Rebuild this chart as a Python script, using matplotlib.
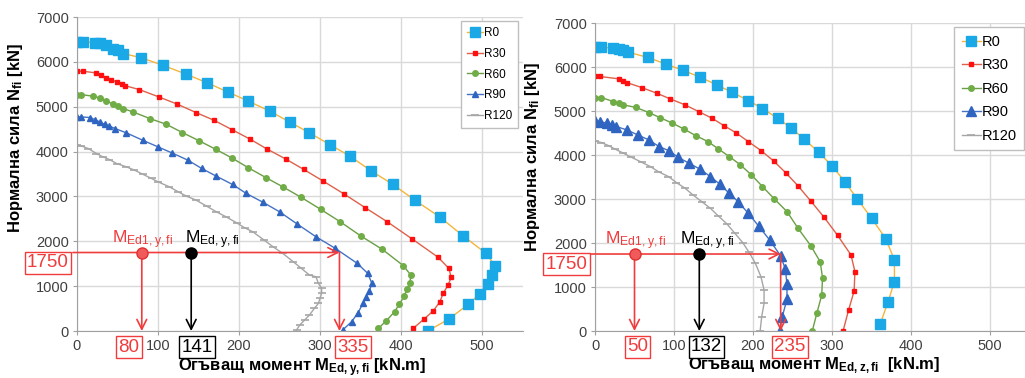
import matplotlib
matplotlib.use("Agg")
import matplotlib.pyplot as plt

plt.rcParams['font.family'] = ['Liberation Sans', 'DejaVu Sans']
plt.rcParams['mathtext.default'] = 'regular'

# ---- left chart: M_Ed,y,fi ----
ly_r0_m = [0, 7, 22, 28, 36, 44, 51, 57, 79, 106, 135, 161, 186, 211, 238, 263, 287, 312, 337, 363,
           390, 417, 448, 477, 505, 516, 512, 507, 497, 483, 459, 433]
ly_r0_n = [6444, 6444, 6429, 6422, 6370, 6295, 6258, 6184, 6095, 5924, 5724, 5531, 5330, 5130, 4900,
           4655, 4417, 4157, 3898, 3571, 3267, 2918, 2539, 2116, 1730, 1455, 1247, 1047, 824, 594, 267, 0]
ly_r30_m = [0, 7, 24, 30, 36, 42, 49, 55, 59, 77, 101, 124, 147, 169, 191, 213, 235, 258, 280, 304,
            330, 356, 383, 414, 446, 459, 462, 458, 452, 448, 440, 428, 415]
ly_r30_n = [5791, 5791, 5754, 5702, 5650, 5605, 5553, 5516, 5471, 5382, 5219, 5056, 4870, 4699, 4492,
            4284, 4053, 3831, 3601, 3341, 3051, 2747, 2435, 2049, 1641, 1396, 1195, 1024, 839, 653,
            453, 260, 59]
ly_r60_m = [0, 5, 20, 28, 36, 44, 51, 57, 69, 90, 110, 130, 151, 171, 191, 211, 233, 254, 277, 301,
            325, 350, 377, 403, 412, 411, 407, 404, 398, 392, 382, 372]
ly_r60_n = [5271, 5271, 5234, 5197, 5122, 5070, 5011, 4959, 4885, 4736, 4610, 4425, 4239, 4053, 3860,
            3645, 3422, 3215, 2977, 2710, 2435, 2123, 1819, 1455, 1247, 1062, 928, 780, 601, 431, 230, 59]
ly_r90_m = [0, 5, 16, 22, 28, 34, 40, 47, 61, 81, 100, 117, 137, 154, 172, 192, 209, 230, 250, 272,
            295, 319, 346, 359, 364, 361, 357, 353, 347, 339, 328]
ly_r90_n = [4774, 4774, 4759, 4714, 4662, 4610, 4566, 4514, 4417, 4254, 4105, 3972, 3808, 3623, 3452,
            3267, 3066, 2866, 2658, 2383, 2101, 1841, 1507, 1284, 1062, 898, 765, 616, 408, 208, 22]
ly_r120_m = [0, 5, 14, 24, 32, 40, 49, 61, 71, 81, 92, 100, 114, 125, 135, 147, 160, 172, 184, 197,
             207, 217, 231, 242, 254, 267, 277, 287, 295, 298, 302, 302, 300, 298, 293, 287, 281, 275, 271]
ly_r120_n = [4142, 4128, 4068, 3957, 3883, 3823, 3734, 3660, 3586, 3497, 3400, 3326, 3215, 3103, 3007,
             2918, 2784, 2658, 2546, 2413, 2301, 2212, 2027, 1878, 1730, 1544, 1396, 1247, 1210, 1062,
             950, 839, 728, 616, 505, 356, 245, 134, 22]

# ---- right chart: M_Ed,z,fi ----
rz_r0_m = [0, 8, 23, 30, 36, 42, 67, 90, 112, 133, 154, 174, 194, 212, 231, 248, 265, 283, 300, 316,
           332, 350, 368, 379, 379, 371, 361]
rz_r0_n = [6452, 6452, 6429, 6406, 6376, 6338, 6217, 6065, 5921, 5770, 5595, 5421, 5239, 5057, 4837,
           4617, 4359, 4064, 3753, 3397, 3002, 2563, 2100, 1615, 1122, 667, 159]
rz_r30_m = [0, 6, 30, 36, 40, 59, 78, 95, 114, 131, 148, 163, 178, 194, 210, 226, 242, 257, 273, 290,
            307, 324, 329, 328, 321, 314]
rz_r30_n = [5785, 5785, 5732, 5686, 5648, 5534, 5406, 5277, 5140, 4989, 4837, 4670, 4511, 4306, 4102,
            3867, 3586, 3298, 2957, 2585, 2176, 1729, 1350, 910, 478, 0]
rz_r60_m = [0, 8, 23, 30, 36, 52, 68, 82, 98, 113, 128, 143, 156, 170, 184, 198, 212, 227, 243, 257,
            273, 285, 288, 287, 281, 275]
rz_r60_n = [5307, 5307, 5216, 5178, 5140, 5080, 4966, 4852, 4723, 4587, 4435, 4306, 4140, 3965, 3776,
            3548, 3283, 3002, 2714, 2335, 1941, 1577, 1213, 819, 417, 0]
rz_r90_m = [0, 6, 15, 21, 27, 40, 54, 68, 81, 94, 105, 119, 133, 146, 158, 169, 181, 194, 207, 221,
            235, 241, 243, 243, 237, 234]
rz_r90_n = [4776, 4761, 4723, 4685, 4647, 4572, 4458, 4344, 4193, 4094, 3950, 3814, 3677, 3510, 3336,
            3146, 2942, 2676, 2388, 2070, 1706, 1403, 1061, 720, 326, 0]
rz_r120_m = [0, 8, 17, 25, 36, 46, 59, 70, 80, 93, 103, 114, 124, 135, 146, 156, 167, 177, 187, 195,
             203, 210, 214, 214, 211, 209]
rz_r120_n = [4321, 4284, 4215, 4139, 4041, 3950, 3836, 3738, 3624, 3510, 3374, 3245, 3093, 2942, 2790,
             2616, 2434, 2221, 2009, 1789, 1539, 1236, 933, 629, 326, 0]

labels = ['R0', 'R30', 'R60', 'R90', 'R120']
n_ed = 1750
left_vals = [80, 141, 335]     # M_Ed1, M_Ed, M_Rd
right_vals = [50, 132, 235]
left_arrow_x = 324
right_arrow_x = 235

RED = '#f03c3c'

fig = plt.figure(figsize=(10.25, 3.78), dpi=100)
ax1 = fig.add_axes([0.0751, 0.1243, 0.4347, 0.8307])
ax2 = fig.add_axes([0.5805, 0.1243, 0.4239, 0.8148])


def draw(ax, curves, tri_size, leg_fs, spacing):
    styles = [
        dict(color='#f5b43c', marker='s', mfc='#1aa9e6', mec='#1aa9e6', ms=7),
        dict(color='#e0604a', marker='s', mfc='#ff1010', mec='#ff1010', ms=3),
        dict(color='#6a9f45', marker='o', mfc='#70ad47', mec='#70ad47', ms=4),
        dict(color='#4472c4', marker='^', mfc='#2f65c0', mec='#2f65c0', ms=tri_size),
        dict(color='#a6a6a6', marker='_', mfc='#a6a6a6', mec='#a6a6a6', ms=6, mew=1.2),
    ]
    for (m, n), lab, st in zip(curves, labels, styles):
        ax.plot(m, n, lw=1, label=lab, **st)
    ax.set_xlim(0, 550)
    ax.set_ylim(0, 7000)
    ax.set_xticks(range(0, 501, 100))
    ax.set_yticks(range(0, 7001, 1000))
    ax.grid(True, color='#d9d9d9', lw=1)
    ax.set_axisbelow(True)
    for s in ['top', 'right']:
        ax.spines[s].set_visible(False)
    for s in ['left', 'bottom']:
        ax.spines[s].set_color('#a0a0a0')
    ax.tick_params(labelsize=10.5, colors='#a0a0a0', labelcolor='#404040', length=3, pad=3)
    leg = ax.legend(loc='upper right', bbox_to_anchor=(0.995, 0.995), fontsize=leg_fs,
                    fancybox=False, edgecolor='#bfbfbf', framealpha=1, handlelength=1.3,
                    handletextpad=0.1, borderpad=0.5, labelspacing=spacing, borderaxespad=0.2)
    leg.get_frame().set_linewidth(1)


draw(ax1, [(ly_r0_m, ly_r0_n), (ly_r30_m, ly_r30_n), (ly_r60_m, ly_r60_n),
           (ly_r90_m, ly_r90_n), (ly_r120_m, ly_r120_n)], 5, 8.5, 0.75)
draw(ax2, [(rz_r0_m, rz_r0_n), (rz_r30_m, rz_r30_n), (rz_r60_m, rz_r60_n),
           (rz_r90_m, rz_r90_n), (rz_r120_m, rz_r120_n)], 7, 10.5, 0.65)

ax1.set_ylabel('Нормална сила N$_{fi}$ [kN]', fontsize=12, fontweight='bold')
ax1.yaxis.set_label_coords(-0.117, 0.615)
ax1.set_xlabel('Огъващ момент M$_{Ed,y,fi}$ [kN.m]', fontsize=12, fontweight='bold')
ax1.xaxis.set_label_coords(0.505, -0.08)
ax2.set_ylabel('Нормална сила N$_{fi}$ [kN]', fontsize=12, fontweight='bold')
ax2.yaxis.set_label_coords(-0.122, 0.565)
ax2.set_xlabel('Огъващ момент M$_{Ed,z,fi}$  [kN.m]', fontsize=12, fontweight='bold')
ax2.xaxis.set_label_coords(0.504, -0.08)


def annotate(ax, vals, arrow_x, pos):
    m1, m, mr = vals
    ap = dict(arrowstyle='->,head_length=0.7,head_width=0.35', lw=1.2, shrinkA=0, shrinkB=0)
    ax.annotate('', xy=(arrow_x, n_ed), xytext=(-5, n_ed), annotation_clip=False,
                arrowprops=dict(color=RED, **ap))
    ax.annotate('', xy=(arrow_x, 0), xytext=(arrow_x, n_ed), annotation_clip=False,
                arrowprops=dict(color=RED, **ap))
    ax.annotate('', xy=(m1, 0), xytext=(m1, n_ed), annotation_clip=False,
                arrowprops=dict(color=RED, **ap))
    ax.annotate('', xy=(m, 0), xytext=(m, n_ed), annotation_clip=False,
                arrowprops=dict(color='black', **ap))
    ax.plot([m1], [n_ed], 'o', color='#f05a5a', mec='#e03030', ms=8, zorder=5)
    ax.plot([m], [n_ed], 'o', color='black', ms=8, zorder=5)
    ax.text(pos['m1_lab'], 1960, 'M$_{Ed1,y,fi}$', color=RED, fontsize=12.5, ha='center')
    ax.text(pos['m_lab'], 1960, 'M$_{Ed,y,fi}$', color='black', fontsize=12.5, ha='left')
    box = dict(boxstyle='square,pad=0.12', fc='white', lw=1)
    ax.text(-36, 1520, str(n_ed), color=RED, fontsize=13.5, ha='center', va='center',
            bbox=dict(ec=RED, **box), clip_on=False)
    ax.text(pos['b1'], -360, str(m1), color=RED, fontsize=13.5, ha='center', va='center',
            bbox=dict(ec=RED, **box), clip_on=False)
    ax.text(pos['b2'], -360, str(m), color='black', fontsize=13.5, ha='center', va='center',
            bbox=dict(ec='black', **box), clip_on=False)
    ax.text(pos['b3'], -360, str(mr), color=RED, fontsize=13.5, ha='center', va='center',
            bbox=dict(ec=RED, **box), clip_on=False)


annotate(ax1, left_vals, left_arrow_x, dict(m1_lab=81, m_lab=133, b1=64, b2=148, b3=341))
annotate(ax2, right_vals, right_arrow_x, dict(m1_lab=51, m_lab=108, b1=54, b2=141, b3=247))

fig.savefig('out.png', dpi=100)
